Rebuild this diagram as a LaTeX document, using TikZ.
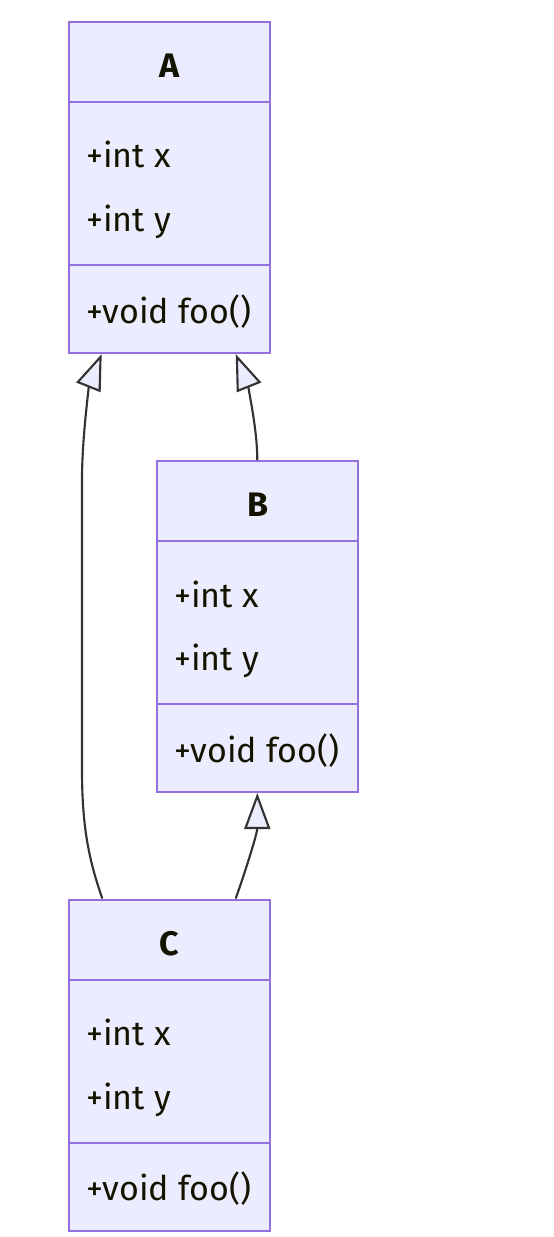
\documentclass[tikz,border=0pt]{standalone}
\usepackage{fontspec}
\setmainfont{Fira Sans}
\usetikzlibrary{arrows.meta,calc}
\definecolor{boxfill}{HTML}{ECECFF}
\definecolor{boxdraw}{HTML}{9370DB}
\definecolor{linec}{HTML}{333333}
\definecolor{txt}{HTML}{131300}
\tikzset{
  umlbox/.style={draw=boxdraw, fill=boxfill, line width=1.5pt, rectangle, inner sep=0pt,
    minimum width=150.75pt, minimum height=248.25pt},
  sepline/.style={draw=boxdraw, line width=1.5pt},
  member/.style={anchor=base west, inner sep=0pt, text=txt, font=\fontsize{25.5}{30}\selectfont},
  title/.style={anchor=base, inner sep=0pt, text=txt, font=\fontsize{25.5}{30}\selectfont\bfseries},
  inherit/.style={draw=linec, line width=1.6pt,
    -{Triangle[length=27pt,width=19.5pt,fill=boxfill]}},
}
\begin{document}
\begin{tikzpicture}[x=0.75pt,y=-0.75pt]
\useasboundingbox (0,0) rectangle (553,1237);
% boxes
\node[umlbox] (A) at (169.5,187.5) {};
\node[umlbox] (B) at (257.5,626.5) {};
\node[umlbox] (C) at (169.5,1065) {};
\foreach \n in {A,B,C}{
  \draw[sepline] ($(\n.north west)+(0,81)$) -- ($(\n.north east)+(0,81)$);
  \draw[sepline] ($(\n.north west)+(0,244)$) -- ($(\n.north east)+(0,244)$);
}
% texts
\node[title] (At) at ($(A.north)+(0,56.5)$) {A};
\node[member] (Ax) at ($(A.north west)+(18,147)$) {+int x};
\node[member] (Ay) at ($(A.north west)+(18,210.5)$) {+int y};
\node[member] (Am) at ($(A.north west)+(18,302)$) {+void foo()};
\node[title] (Bt) at ($(B.north)+(0,56.5)$) {B};
\node[member] (Bx) at ($(B.north west)+(18,147)$) {+int x};
\node[member] (By) at ($(B.north west)+(18,210.5)$) {+int y};
\node[member] (Bm) at ($(B.north west)+(18,302)$) {+void foo()};
\node[title] (Ct) at ($(C.north)+(0,56.5)$) {C};
\node[member] (Cx) at ($(C.north west)+(18,147)$) {+int x};
\node[member] (Cy) at ($(C.north west)+(18,210.5)$) {+int y};
\node[member] (Cm) at ($(C.north west)+(18,302)$) {+void foo()};
% connectors
\draw[inherit] ($(C.north west)+(34.3,0)$) .. controls +(-14,-40) and +(0,55) .. (82,770)
  -- (82,480) .. controls +(0,-45) and +(-12,30) .. ($(A.south west)+(33.7,0)$);
\draw[inherit] ($(B.north west)+(101.3,0)$) .. controls +(0,-35) and +(10,25) .. ($(A.south west)+(167.7,0)$);
\draw[inherit] ($(C.north west)+(167.7,0)$) .. controls +(10,-28) and +(0,40) .. ($(B.south west)+(101.3,0)$);
\end{tikzpicture}
\end{document}
